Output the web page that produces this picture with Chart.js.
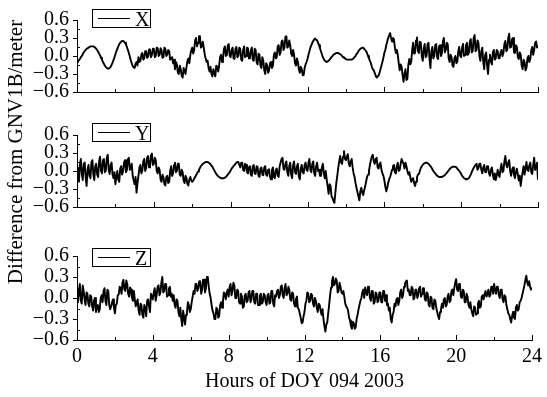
<!DOCTYPE html>
<html><head><meta charset="utf-8">
<script src="https://cdn.jsdelivr.net/npm/chart.js@4.4.1/dist/chart.umd.min.js"></script>
<style>
html,body{margin:0;padding:0;background:#fff;}
#wrap{position:relative;width:547px;height:397px;overflow:hidden;font-family:"Liberation Serif","Times New Roman",serif;color:#000;}
canvas{position:absolute;left:0;}
.leg{position:absolute;left:92px;width:57px;height:17px;border:1px solid #000;font-size:20px;line-height:18px;}
.leg .ln{position:absolute;left:5px;top:8px;width:32px;border-top:1px solid #000;}
.leg .tx{position:absolute;left:42px;top:0;}
#ytitle{position:absolute;left:-135px;top:140px;width:300px;height:24px;line-height:24px;font-size:21px;text-align:center;transform:rotate(-90deg);white-space:nowrap;}
</style>
</head><body>
<div id="wrap">
<canvas id="cX" width="547" height="112" style="top:0px"></canvas>
<canvas id="cY" width="547" height="112" style="top:115px"></canvas>
<canvas id="cZ" width="547" height="161" style="top:236px"></canvas>
<div class="leg" style="top:9px"><span class="ln"></span><span class="tx">X</span></div>
<div class="leg" style="top:123px"><span class="ln"></span><span class="tx">Y</span></div>
<div class="leg" style="top:248px"><span class="ln"></span><span class="tx">Z</span></div>
<div id="ytitle">Difference from GNV1B/meter</div>
</div>
<script>
const STEP_HOURS = 0.05;
const X_TICKS = [0, 4, 8, 12, 16, 20, 24];
const Y_TICKS = [-0.6, -0.3, 0.0, 0.3, 0.6];
const X_TITLE = 'Hours of DOY 094 2003';

const X_DIFF = [
-0.10,-0.09,-0.07,-0.05,-0.02,0.00,0.03,0.06,0.08,0.10,0.12,0.13,0.14,0.15,0.16,0.16,0.16,0.16,0.15,0.14,
0.12,0.10,0.07,0.04,0.01,-0.03,-0.06,-0.10,-0.13,-0.16,-0.18,-0.20,-0.21,-0.21,-0.20,-0.18,-0.15,-0.11,-0.07,-0.02,
0.03,0.08,0.12,0.16,0.20,0.22,0.24,0.25,0.25,0.24,0.22,0.19,0.15,0.10,0.05,-0.01,-0.07,-0.12,-0.17,-0.19,
-0.20,-0.13,-0.10,-0.16,-0.02,-0.10,-0.08,0.02,0.05,-0.06,-0.04,0.08,0.08,-0.03,-0.01,0.11,0.10,-0.02,0.02,0.12,
0.12,-0.02,0.00,0.14,0.13,0.00,0.02,0.13,0.10,-0.03,-0.02,0.14,0.12,0.00,0.03,0.10,0.08,-0.06,-0.05,-0.02,
-0.12,-0.06,-0.22,-0.10,-0.14,-0.28,-0.30,-0.16,-0.22,-0.33,-0.36,-0.20,-0.24,-0.30,-0.18,-0.08,-0.04,-0.12,0.02,0.10,
0.14,0.04,0.10,0.26,0.30,0.16,0.22,0.33,0.33,0.14,0.16,0.24,0.14,0.02,-0.04,-0.10,-0.08,-0.20,-0.26,-0.18,
-0.30,-0.34,-0.22,-0.28,-0.34,-0.16,-0.18,-0.26,-0.16,-0.02,0.02,-0.10,-0.04,0.12,0.16,0.00,0.02,0.18,0.20,0.00,
-0.02,0.10,0.14,-0.04,-0.05,0.12,0.15,-0.02,0.00,0.14,0.12,-0.06,-0.08,0.10,0.16,-0.02,0.00,0.14,0.13,-0.04,
-0.04,0.10,0.14,-0.06,-0.08,0.12,0.10,-0.10,-0.14,0.04,0.02,-0.16,-0.20,-0.02,-0.08,-0.24,-0.30,-0.12,-0.16,-0.28,
-0.24,-0.12,-0.10,-0.20,-0.16,0.02,0.06,-0.04,-0.02,0.16,0.18,0.02,0.06,0.24,0.26,0.10,0.14,0.32,0.33,0.14,
0.16,0.26,0.18,0.04,0.00,0.10,0.02,-0.12,-0.16,-0.04,-0.10,-0.22,-0.28,-0.18,-0.22,-0.32,-0.32,-0.20,-0.14,-0.10,
-0.05,0.02,0.08,0.14,0.18,0.22,0.25,0.28,0.29,0.27,0.26,0.22,0.18,0.13,0.08,0.03,-0.02,-0.05,-0.08,-0.09,
-0.10,-0.09,-0.08,-0.06,-0.04,-0.02,0.00,0.02,0.03,0.04,0.05,0.05,0.05,0.04,0.03,0.02,0.00,-0.02,-0.03,-0.04,
-0.05,-0.06,-0.06,-0.06,-0.06,-0.06,-0.06,-0.05,-0.04,-0.02,0.00,0.03,0.05,0.08,0.10,0.12,0.13,0.14,0.14,0.12,
0.10,0.08,0.05,0.00,-0.04,-0.08,-0.12,-0.18,-0.22,-0.24,-0.28,-0.33,-0.36,-0.34,-0.33,-0.28,-0.22,-0.16,-0.10,-0.03,
0.05,0.10,0.18,0.24,0.30,0.34,0.38,0.30,0.24,0.30,0.28,0.14,0.05,0.10,0.02,-0.12,-0.24,-0.14,-0.18,-0.32,
-0.43,-0.30,-0.22,-0.40,-0.38,-0.15,-0.05,-0.14,-0.10,0.10,0.22,0.04,0.05,0.26,0.31,0.08,0.05,0.24,0.22,0.00,
-0.08,0.12,0.20,-0.02,0.00,0.20,0.22,-0.04,-0.20,0.08,0.15,-0.04,0.00,0.18,0.20,-0.02,-0.05,0.16,0.18,0.00,
0.05,0.24,0.30,0.06,0.10,0.22,0.20,-0.04,-0.10,0.02,-0.02,-0.16,-0.18,-0.04,0.00,-0.12,-0.10,0.08,0.15,0.00,
-0.02,0.14,0.20,0.00,0.02,0.18,0.22,0.02,0.05,0.24,0.28,0.06,0.08,0.30,0.35,0.08,0.10,0.26,0.22,0.00,
-0.08,0.08,0.14,-0.10,-0.22,0.02,0.06,-0.16,-0.30,-0.06,0.02,-0.10,-0.14,0.06,0.10,-0.06,-0.04,0.10,0.08,-0.04,
-0.04,0.06,0.10,0.00,0.05,0.20,0.25,0.08,0.10,0.30,0.37,0.14,0.15,0.28,0.30,0.06,0.05,0.18,0.15,-0.02,
-0.05,0.06,0.02,-0.16,-0.22,-0.06,-0.10,-0.24,-0.20,-0.04,0.00,-0.10,-0.05,0.10,0.15,0.02,0.10,0.22,0.24,0.14,
0.18];

const Y_DIFF = [
0.05,-0.12,-0.18,0.10,0.20,-0.05,-0.15,0.12,0.14,-0.10,-0.25,0.02,0.10,-0.08,-0.12,0.14,0.18,-0.05,-0.15,0.08,
0.12,-0.06,-0.10,0.16,0.24,0.00,-0.04,0.18,0.20,-0.02,0.00,0.22,0.27,0.02,-0.05,0.10,0.14,-0.06,-0.12,-0.02,
-0.22,-0.10,0.00,-0.14,-0.18,0.04,0.08,-0.06,0.00,0.14,0.18,-0.02,0.02,0.20,0.22,0.02,0.05,0.12,-0.08,-0.16,
-0.22,-0.10,-0.36,-0.20,-0.08,0.06,0.10,-0.04,0.00,0.16,0.20,0.00,0.05,0.22,0.25,0.06,0.08,0.26,0.29,0.10,
0.12,0.22,0.18,0.00,-0.04,0.06,0.02,-0.14,-0.18,-0.06,-0.10,-0.22,-0.24,-0.10,-0.08,-0.20,-0.18,0.00,0.08,-0.08,
-0.04,0.10,0.14,-0.02,0.00,0.12,0.12,-0.06,-0.08,0.02,-0.02,-0.16,-0.20,-0.08,-0.12,-0.22,-0.24,-0.14,-0.10,-0.16,
-0.18,-0.16,-0.13,-0.10,-0.07,-0.04,-0.01,0.02,0.05,0.08,0.10,0.12,0.13,0.14,0.15,0.15,0.15,0.14,0.13,0.11,
0.09,0.07,0.04,0.01,-0.02,-0.05,-0.07,-0.09,-0.10,-0.11,-0.12,-0.12,-0.12,-0.12,-0.11,-0.10,-0.08,-0.06,-0.04,-0.02,
0.01,0.04,0.06,0.08,0.10,0.12,0.14,0.15,0.15,0.10,0.06,0.14,0.14,0.02,0.00,0.12,0.10,-0.02,-0.04,0.06,
0.08,-0.06,-0.08,0.08,0.10,-0.04,-0.05,0.08,0.07,-0.08,-0.10,0.04,0.06,-0.06,-0.07,0.06,0.08,-0.06,-0.08,0.02,
0.03,-0.10,-0.14,0.02,0.06,-0.10,-0.12,0.02,0.04,-0.08,-0.10,0.08,0.14,0.20,0.22,0.04,0.02,0.12,0.16,-0.02,
-0.08,0.08,0.14,-0.06,-0.12,0.10,0.16,-0.02,-0.05,0.08,0.12,-0.10,-0.14,0.04,0.10,-0.02,-0.04,0.10,0.14,0.02,
0.00,0.14,0.20,0.02,-0.02,0.12,0.16,-0.04,-0.08,0.08,0.14,0.00,0.02,-0.08,-0.08,0.06,0.12,-0.04,-0.12,0.00,
-0.15,-0.26,-0.38,-0.22,-0.25,-0.42,-0.45,-0.50,-0.53,-0.36,-0.20,-0.08,0.05,0.16,0.25,0.14,0.12,0.24,0.33,0.20,
0.18,0.24,0.28,0.12,0.08,0.16,0.20,0.06,-0.04,-0.10,-0.20,-0.28,-0.35,-0.42,-0.49,-0.34,-0.28,-0.36,-0.40,-0.32,
-0.26,-0.18,-0.10,-0.06,0.00,0.10,0.18,0.24,0.27,0.16,0.12,0.20,0.22,0.06,0.04,0.12,0.14,0.02,-0.04,-0.08,
-0.15,-0.26,-0.34,-0.28,-0.20,-0.14,-0.10,-0.04,0.02,0.08,0.10,-0.02,-0.04,0.08,0.14,0.00,0.02,0.12,0.20,0.16,
0.12,0.04,0.14,0.08,0.00,-0.06,-0.02,-0.10,-0.18,-0.14,-0.12,-0.20,-0.25,-0.18,-0.10,-0.06,-0.05,0.00,0.05,0.08,
0.10,0.12,0.13,0.14,0.14,0.13,0.12,0.10,0.08,0.06,0.03,0.00,-0.02,-0.04,-0.06,-0.08,-0.09,-0.10,-0.10,-0.10,
-0.10,-0.09,-0.08,-0.07,-0.05,-0.03,-0.01,0.01,0.03,0.05,0.06,0.07,0.07,0.07,0.07,0.06,0.04,0.02,0.00,-0.02,
-0.05,-0.08,-0.10,-0.12,-0.13,-0.14,-0.14,-0.13,-0.12,-0.09,-0.06,-0.02,0.02,0.05,0.08,0.10,0.12,0.02,0.05,0.12,
0.12,0.02,-0.04,0.06,0.10,-0.02,-0.02,0.08,0.08,-0.04,-0.08,0.02,0.06,-0.06,-0.14,-0.04,-0.15,-0.08,0.02,-0.06,
-0.10,0.04,0.12,-0.02,0.00,0.16,0.25,0.10,0.06,0.14,0.18,0.00,-0.08,0.02,0.06,-0.06,-0.12,-0.02,0.04,-0.06,
-0.16,-0.08,-0.25,-0.12,-0.02,0.08,-0.06,0.04,0.15,0.02,0.00,0.10,0.14,-0.02,-0.05,0.10,0.22,0.02,0.06,0.14,
-0.15];

const Z_DIFF = [
0.03,-0.06,0.10,0.20,-0.04,-0.08,0.18,0.10,-0.02,-0.10,0.08,0.06,-0.08,-0.12,0.04,0.02,-0.12,-0.18,-0.03,0.00,
-0.20,-0.12,-0.10,-0.20,-0.16,0.00,0.04,-0.06,0.10,0.14,-0.04,-0.10,0.12,0.10,-0.10,-0.16,-0.12,-0.06,-0.02,-0.14,
-0.22,-0.10,-0.08,0.04,0.05,0.16,0.14,0.06,0.22,0.26,0.12,0.10,0.25,0.20,0.06,0.02,0.15,0.12,0.00,-0.04,
0.10,-0.02,-0.12,-0.06,-0.02,-0.18,-0.24,-0.08,-0.10,-0.24,-0.28,-0.10,-0.14,-0.26,-0.04,-0.02,-0.12,-0.20,0.06,0.02,
-0.02,0.08,0.14,-0.04,0.04,0.16,0.18,0.04,0.08,0.22,0.30,0.08,0.10,0.20,0.20,0.02,0.04,0.14,0.16,0.02,
0.06,-0.04,0.04,-0.10,-0.14,-0.02,-0.04,-0.20,-0.26,-0.14,-0.30,-0.40,-0.18,-0.28,-0.38,-0.24,-0.20,-0.06,-0.10,-0.20,
-0.16,-0.06,0.02,0.10,0.06,0.20,0.20,0.10,0.14,0.24,0.24,0.06,0.12,0.26,0.26,0.08,0.14,0.30,0.30,0.16,
0.06,0.00,-0.10,-0.18,-0.22,-0.30,-0.30,-0.14,-0.16,-0.28,-0.26,-0.10,-0.06,-0.14,-0.04,0.08,0.06,-0.02,0.08,0.12,
0.02,0.16,0.20,0.04,0.10,0.22,0.18,0.00,0.00,0.12,0.10,-0.06,-0.08,0.06,0.02,-0.14,-0.12,0.04,0.06,-0.06,
-0.04,0.08,0.10,-0.06,-0.02,0.10,0.10,-0.06,-0.08,0.06,0.06,-0.10,-0.10,0.04,0.06,-0.08,-0.06,0.06,0.04,-0.06,
-0.10,0.04,0.06,-0.08,-0.06,0.10,0.10,-0.08,-0.12,0.04,0.02,0.10,0.12,0.00,0.04,0.16,0.18,0.04,0.00,0.14,
0.20,0.04,0.06,0.16,0.12,-0.02,-0.04,0.08,0.06,-0.08,-0.12,-0.02,0.02,-0.14,-0.16,-0.22,-0.28,-0.36,-0.35,-0.26,
-0.20,-0.08,-0.04,0.08,0.06,-0.06,-0.04,0.06,0.04,-0.08,-0.12,0.00,-0.04,-0.14,-0.20,-0.08,-0.10,-0.18,-0.24,-0.16,
-0.30,-0.40,-0.48,-0.38,-0.35,-0.22,-0.10,0.04,0.15,0.24,0.30,0.18,0.20,0.28,0.25,0.08,0.10,0.22,0.16,0.08,
0.06,0.10,0.02,-0.08,-0.12,-0.14,-0.18,-0.28,-0.32,-0.40,-0.44,-0.34,-0.36,-0.44,-0.42,-0.30,-0.24,-0.16,-0.10,-0.04,
0.00,0.08,0.12,0.00,0.15,0.08,0.04,0.16,0.14,0.00,-0.04,0.10,0.10,-0.08,-0.06,0.08,0.06,-0.06,-0.04,0.08,
0.08,-0.06,-0.06,0.10,0.10,-0.04,0.04,-0.10,-0.08,-0.18,-0.14,-0.30,-0.35,-0.24,-0.20,-0.08,-0.12,-0.02,0.00,-0.10,
-0.04,0.08,0.12,0.00,0.04,0.16,0.20,0.24,0.25,0.10,0.12,0.04,0.04,0.16,0.14,-0.02,0.00,0.12,0.12,0.00,
0.04,0.14,0.16,0.02,0.06,0.14,0.14,-0.02,-0.04,0.08,0.06,-0.10,-0.12,0.02,0.00,-0.14,-0.16,-0.02,-0.04,-0.14,
-0.20,-0.26,-0.30,-0.20,-0.16,-0.08,-0.14,-0.02,0.00,-0.12,-0.10,0.02,0.06,-0.06,-0.04,0.10,0.12,0.04,0.14,0.22,
0.27,0.12,0.10,0.20,0.18,0.02,0.00,0.12,0.10,-0.06,-0.06,0.06,0.02,-0.10,-0.14,-0.06,-0.16,-0.22,-0.26,-0.12,
-0.14,-0.24,-0.22,-0.08,-0.04,-0.14,-0.12,0.02,0.04,-0.02,0.06,0.10,0.02,0.06,0.12,0.02,0.04,0.16,0.16,0.06,
0.20,0.12,0.06,0.16,0.16,0.04,0.00,0.12,0.12,-0.02,-0.06,0.04,0.02,-0.10,-0.16,-0.22,-0.24,-0.30,-0.35,-0.26,
-0.20,-0.28,-0.30,-0.14,-0.10,-0.18,-0.16,-0.06,-0.04,0.00,0.06,0.12,0.18,0.26,0.32,0.22,0.18,0.24,0.16,0.12,
0.15];

const FONT = {family: '"Liberation Serif","Times New Roman",serif', size: 20};

function fmt(v){
  const s = Math.abs(v).toFixed(1);
  return v < -1e-9 ? '\u2212' + s : s;
}

const tickMarks = {
  id: 'tickMarks',
  afterDraw(chart){
    const ctx = chart.ctx, xs = chart.scales.x, ys = chart.scales.y, a = chart.chartArea;
    ctx.save();
    ctx.strokeStyle = '#000';
    ctx.lineWidth = 1;
    ctx.beginPath();
    X_TICKS.forEach((v, i) => {
      const px = Math.round(xs.getPixelForValue(v)) + 0.5;
      ctx.moveTo(px, a.bottom); ctx.lineTo(px, a.bottom - 5);
      if (i < X_TICKS.length - 1) {
        const mx = Math.round(xs.getPixelForValue((v + X_TICKS[i+1]) / 2)) + 0.5;
        ctx.moveTo(mx, a.bottom); ctx.lineTo(mx, a.bottom - 3);
      }
    });
    Y_TICKS.forEach((v, i) => {
      const py = Math.round(ys.getPixelForValue(v)) + 0.5;
      ctx.moveTo(a.left, py); ctx.lineTo(a.left - 4, py);
      if (i < Y_TICKS.length - 1) {
        const my = Math.round(ys.getPixelForValue((v + Y_TICKS[i+1]) / 2)) + 0.5;
        ctx.moveTo(a.left, my); ctx.lineTo(a.left + 3, my);
      }
    });
    ctx.stroke();
    ctx.restore();
  }
};

function makePanel(id, label, values, bottom, xHeight){
  const pts = values.map((v, i) => ({x: +(i * STEP_HOURS).toFixed(2), y: v}));
  return new Chart(document.getElementById(id), {
    type: 'line',
    data: {datasets: [{label: label, data: pts, borderColor: '#000', borderWidth: 1.9,
      pointRadius: 0, tension: 0, fill: false, borderJoinStyle: 'round'}]},
    options: {
      responsive: false, animation: false, events: [],
      layout: {padding: {top: 14, right: 9, left: 0, bottom: 0}},
      plugins: {legend: {display: false}, tooltip: {enabled: false}},
      scales: {
        x: {type: 'linear', min: 0, max: 24,
          afterBuildTicks: s => { s.ticks = X_TICKS.map(v => ({value: v})); },
          afterFit: s => { s.height = xHeight; },
          grid: {display: false, drawTicks: false},
          border: {display: true, color: '#000', width: 1},
          ticks: {display: bottom, color: '#000', font: FONT, padding: 5, maxRotation: 0, autoSkip: false},
          title: {display: bottom, text: X_TITLE, color: '#000', font: FONT, padding: {top: 0, bottom: 3}}
        },
        y: {type: 'linear', min: -0.6, max: 0.6,
          afterBuildTicks: s => { s.ticks = Y_TICKS.map(v => ({value: v})); },
          afterFit: s => { s.width = 77; },
          grid: {display: false, drawTicks: false},
          border: {display: true, color: '#000', width: 1},
          ticks: {color: '#000', font: FONT, padding: 8, autoSkip: false, callback: v => fmt(v)}
        }
      }
    },
    plugins: [tickMarks]
  });
}

makePanel('cX', 'X', X_DIFF, false, 8);
makePanel('cY', 'Y', Y_DIFF, false, 8);
makePanel('cZ', 'Z', Z_DIFF, true, 57);
</script>
</body></html>
